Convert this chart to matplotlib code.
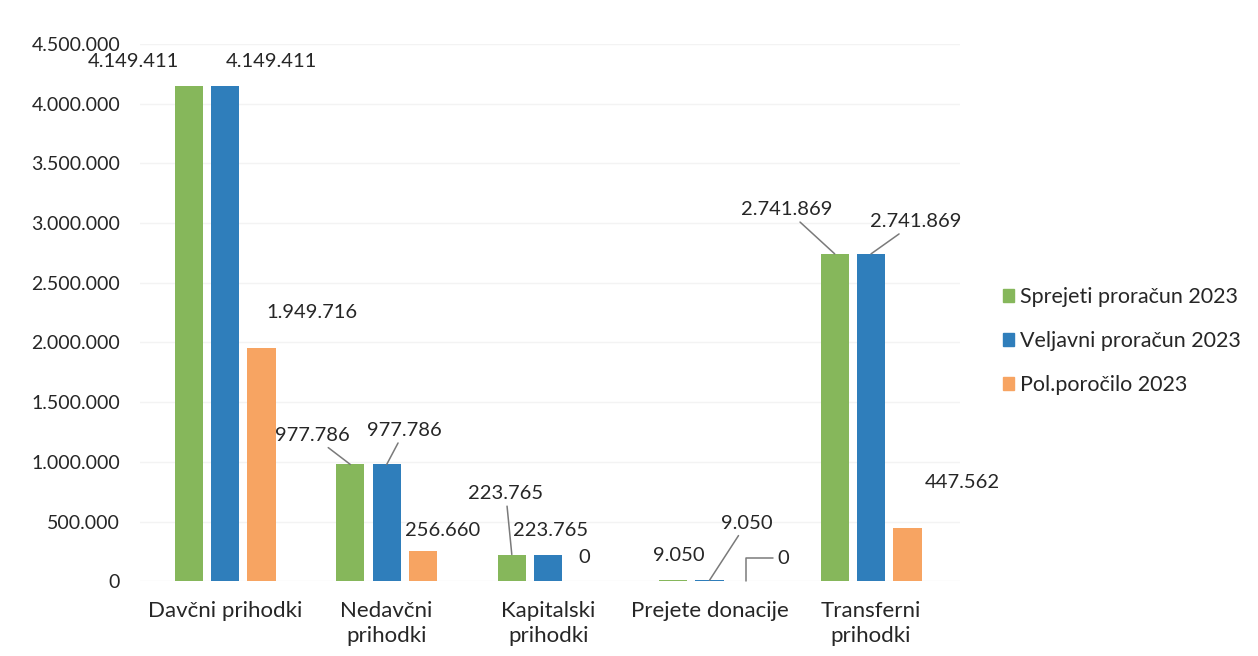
import matplotlib
matplotlib.use('Agg')
import matplotlib.pyplot as plt
from matplotlib.patches import Patch
import numpy as np

plt.rcParams['font.family'] = ['Lato', 'DejaVu Sans']

categories = ['Davčni prihodki', 'Nedavčni\nprihodki', 'Kapitalski\nprihodki',
              'Prejete donacije', 'Transferni\nprihodki']
series_names = ['Sprejeti proračun 2023', 'Veljavni proračun 2023', 'Pol.poročilo 2023']
sprejeti = [4149411, 977786, 223765, 9050, 2741869]
veljavni = [4149411, 977786, 223765, 9050, 2741869]
porocilo = [1949716, 256660, 0, 0, 447562]
colors = ['#86B75B', '#2F7EBB', '#F7A462']

# label offsets in pixels from the bar top (dx, dy)
label_off = [
    [(-55, 24), (46, 24), (50, 36)],
    [(-38, 29), (18, 34), (20, 20)],
    [(-6, 61), (2, 24), (0, 24)],
    [(6, 25), (37, 57), (37, 23)],
    [(-48, 44), (45, 32), (55, 45)],
]
# which labels get a leader line
leaders = {(1, 0): 'arc3', (1, 1): 'arc3', (2, 0): 'arc3', (3, 1): 'arc3',
           (3, 2): 'angle,angleA=0,angleB=90,rad=0', (4, 0): 'arc3', (4, 1): 'arc3'}


def fmt(v):
    return f"{int(v):,}".replace(',', '.')


fig = plt.figure(figsize=(12.58, 6.56), dpi=100)
ax = fig.add_axes([0.111, 0.114, 0.652, 0.819])

x = np.arange(len(categories))
off = 0.225
w = 0.175
all_series = [sprejeti, veljavni, porocilo]
for j, vals in enumerate(all_series):
    bars = ax.bar(x + (j - 1) * off, vals, width=w, color=colors[j], zorder=2)
    for i, b in enumerate(bars):
        dx, dy = label_off[i][j]
        xy = (b.get_x() + b.get_width() / 2, b.get_height())
        kw = {}
        if (i, j) in leaders:
            kw['arrowprops'] = dict(arrowstyle='-', color='#7a7a7a', lw=1.1,
                                    shrinkA=1, shrinkB=0,
                                    connectionstyle=leaders[(i, j)])
        ax.annotate(fmt(vals[i]), xy=xy, xytext=(dx, dy), textcoords='offset pixels',
                    ha='center', va='center', fontsize=14.5, color='#262626', **kw)

ax.set_ylim(0, 4500000)
ax.set_xlim(-0.53, 4.55)
yt = np.arange(0, 4500001, 500000)
ax.set_yticks(yt)
ax.set_yticklabels([fmt(v) for v in yt], fontsize=14, color='#262626')
ax.set_xticks(x)
ax.set_xticklabels(categories, fontsize=16, color='#262626', linespacing=1.35)
ax.tick_params(length=0, pad=14)
ax.tick_params(axis='x', pad=14)
for s in ax.spines.values():
    s.set_visible(False)
ax.grid(axis='y', color='#f3f3f3', lw=1, zorder=0)

handles = [Patch(color=c) for c in colors]
fig.legend(handles, series_names, loc='center left', bbox_to_anchor=(0.797, 0.48),
           frameon=False, fontsize=15.5, handlelength=0.55, handleheight=0.55,
           handletextpad=0.25, labelspacing=1.1, borderpad=0, borderaxespad=0,
           labelcolor='#262626')

fig.savefig('out.png', dpi=100, facecolor='white')
